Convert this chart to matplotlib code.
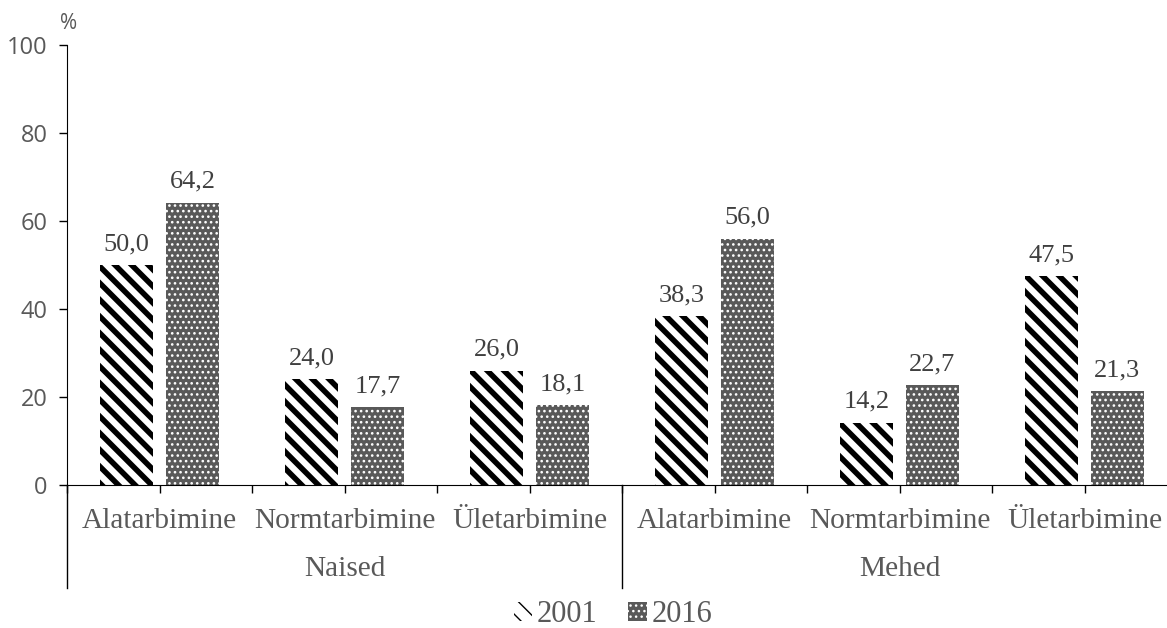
import numpy as np
import matplotlib
matplotlib.use("Agg")
from matplotlib import pyplot as plt
from matplotlib.patches import Patch

# share of people by weight group, women and men, 2001 vs 2016
groups = ["Naised", "Mehed"]
categories = ["Alatarbimine", "Normtarbimine", "Ületarbimine"] * 2
years = ["2001", "2016"]
v2001 = [50.0, 24.0, 26.0, 38.3, 14.2, 47.5]
v2016 = [64.2, 17.7, 18.1, 56.0, 22.7, 21.3]

grey = "#595959"
serif = "Liberation Serif"

fig = plt.figure(figsize=(11.67, 6.28), dpi=100)
# axis runs off the right edge a bit, like the original export
ax = fig.add_axes([67/1167, 1-485/628, 1110/1167, 440/628])

x = np.arange(len(categories))
w = 0.282
off = 0.178
b1 = ax.bar(x - off, v2001, w, color="white", edgecolor="black", lw=0, hatch="\\\\", hatch_linewidth=4.0)
b2 = ax.bar(x + off, v2016, w, color=grey, edgecolor="white", lw=0, hatch="...", hatch_linewidth=1.1)

for bars, vals in [(b1, v2001), (b2, v2016)]:
    for r, v in zip(bars, vals):
        ax.annotate(f"{v:.1f}".replace(".", ","), (r.get_x() + r.get_width()/2, v),
                    xytext=(0, 7), textcoords="offset points", ha="center", va="bottom",
                    fontsize=19, family=serif, color="#404040")

ax.set_xlim(-0.5, 5.5)
ax.set_ylim(0, 100)
ax.set_yticks(range(0, 101, 20))
ax.tick_params(axis="y", direction="out", length=6, width=1, labelsize=17, labelcolor=grey, pad=8)
for lb in ax.get_yticklabels():
    lb.set_family("Open Sans")
ax.text(-0.006, 1.025, "%", transform=ax.transAxes, ha="left", va="bottom",
        fontsize=15, family="Open Sans", color=grey)

# ticks at every half category, labels drawn as text below
ax.set_xticks(np.arange(-0.5, 5.6, 0.5))
ax.set_xticklabels([])
ax.tick_params(axis="x", direction="out", length=6, width=1)
for spine in ["top", "right"]:
    ax.spines[spine].set_visible(False)
ax.spines["left"].set_bounds(0, 100)

trans = ax.get_xaxis_transform()
for i, c in enumerate(categories):
    ax.text(i, -0.082, c, transform=trans, ha="center", va="center",
            fontsize=21.2, family=serif, color=grey)
for g, name in enumerate(groups):
    ax.text(3*g + 1, -0.19, name, transform=trans, ha="center", va="center",
            fontsize=21.2, family=serif, color=grey)
for xs in [-0.5, 2.5, 5.5]:
    ax.plot([xs, xs], [0, -0.235], transform=trans, color="black", lw=1, clip_on=False)

handles = [Patch(facecolor="white", edgecolor="black", lw=0, hatch="\\\\", hatch_linewidth=4.0),
           Patch(facecolor=grey, edgecolor="white", lw=0, hatch="...", hatch_linewidth=1.1)]
fig.legend(handles, years, loc="center", bbox_to_anchor=(613/1167, 1-615/628), ncol=2,
           frameon=False, prop={"family": serif, "size": 22}, labelcolor=grey,
           handlelength=0.6, handleheight=0.6, handletextpad=0.15, columnspacing=1.0)

fig.savefig("out.png", dpi=100)
